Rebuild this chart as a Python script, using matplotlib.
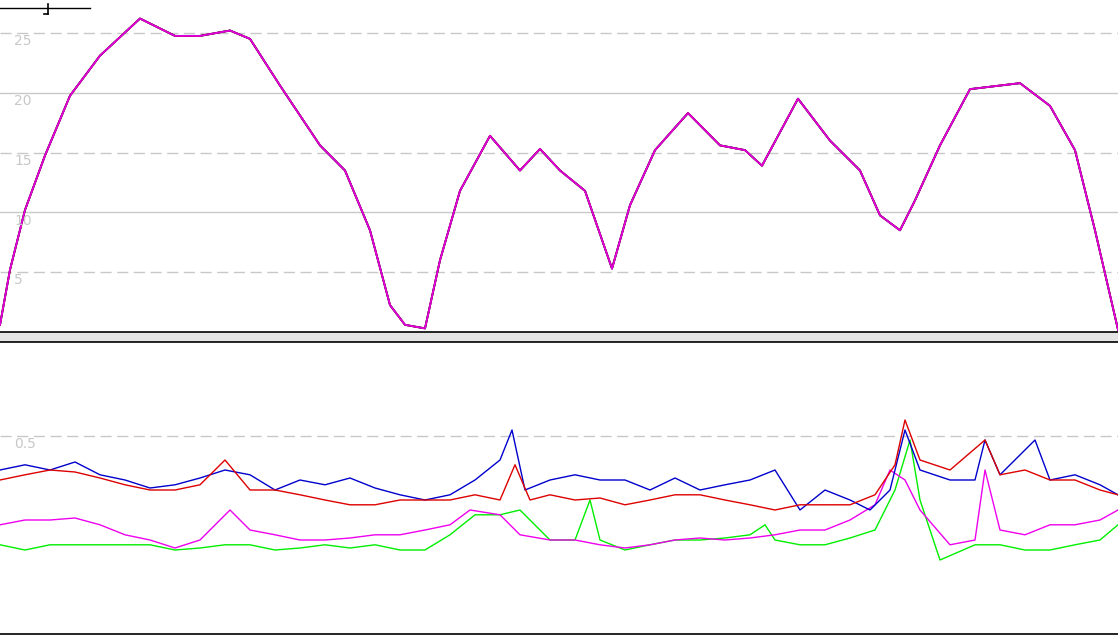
import matplotlib
matplotlib.use("Agg")
import matplotlib.pyplot as plt
from matplotlib.patches import Rectangle
from matplotlib.lines import Line2D

# top panel: shared profile (all four series nearly overlap)
top_x = [0,10,25,45,70,100,140,175,200,230,250,280,320,345,370,390,405,425,440,460,490,520,540,560,585,612,630,655,688,720,745,762,798,830,860,880,900,915,940,970,1020,1050,1075,1095,1118]
top_v = [0.6,5.2,10.2,14.75,19.75,23.1,26.2,24.75,24.75,25.2,24.5,20.6,15.6,13.5,8.5,2.25,0.6,0.3,6.0,11.8,16.4,13.5,15.3,13.5,11.8,5.3,10.6,15.2,18.3,15.6,15.2,13.9,19.5,16.0,13.5,9.75,8.5,11.0,15.6,20.3,20.8,18.9,15.2,8.5,0.2]

blue_x = [0,25,50,75,100,125,150,175,200,225,250,275,300,325,350,375,400,425,450,475,500,512,525,550,575,600,625,650,675,700,725,750,775,800,825,850,870,890,905,920,950,975,985,1000,1035,1050,1075,1100,1118]
blue_v = [.415,.428,.415,.435,.403,.39,.37,.378,.395,.415,.403,.365,.39,.378,.395,.37,.353,.34,.353,.39,.44,.515,.365,.39,.403,.39,.39,.365,.395,.365,.378,.39,.415,.315,.365,.34,.315,.365,.515,.415,.39,.39,.49,.403,.49,.39,.403,.378,.353]
red_x = [0,25,50,75,100,125,150,175,200,225,250,275,300,325,350,375,400,425,450,475,500,515,530,550,575,600,625,650,675,700,725,750,775,800,825,850,875,895,905,920,950,985,1000,1025,1050,1075,1100,1118]
red_v = [.39,.403,.415,.41,.395,.378,.365,.365,.378,.44,.365,.365,.353,.34,.328,.328,.34,.34,.34,.353,.34,.428,.34,.353,.34,.345,.328,.34,.353,.353,.34,.328,.315,.328,.328,.328,.353,.428,.54,.44,.415,.49,.403,.415,.39,.39,.365,.353]
mag_x = [0,25,50,75,100,125,150,175,200,230,250,275,300,325,350,375,400,425,450,470,500,520,550,575,600,625,650,675,700,725,750,775,800,825,850,875,890,905,920,950,975,985,1000,1025,1050,1075,1100,1118]
mag_v = [.278,.29,.29,.295,.278,.253,.24,.22,.24,.315,.265,.253,.24,.24,.245,.253,.253,.265,.278,.315,.303,.253,.24,.24,.228,.22,.228,.24,.245,.24,.245,.253,.265,.265,.29,.328,.415,.39,.315,.228,.24,.415,.265,.253,.278,.278,.29,.315]
grn_x = [0,25,50,75,100,125,150,175,200,225,250,275,300,325,350,375,400,425,450,475,500,520,550,575,590,600,625,650,675,700,725,750,765,775,800,825,850,875,895,910,920,940,975,1000,1025,1050,1075,1100,1118]
grn_v = [.228,.215,.228,.228,.228,.228,.228,.215,.22,.228,.228,.215,.22,.228,.22,.228,.215,.215,.253,.303,.303,.315,.24,.24,.34,.24,.215,.228,.24,.24,.245,.253,.278,.24,.228,.228,.245,.265,.365,.49,.34,.19,.228,.228,.215,.215,.228,.24,.278]

fig = plt.figure(figsize=(11.18, 6.39), dpi=100)
H = 639.0
ax1 = fig.add_axes([0, 1-332/H, 1, 332/H])
ax2 = fig.add_axes([0, 5/H, 1, 291/H])

for ax in (ax1, ax2):
    for s in ax.spines.values():
        s.set_visible(False)
    ax.set_xticks([]); ax.set_yticks([])
    ax.set_xlim(0, 1118)

ax1.set_ylim(0, 27.75)
for v, ls in [(25,(0,(8,4))),(20,'-'),(15,(0,(8,4))),(10,'-'),(5,(0,(8,4)))]:
    ax1.axhline(v, color='#c8c8c8', lw=1, ls=ls, zorder=0)
    ax1.text(14, v-0.1, str(v), color='#c8c8c8', fontsize=10, va='top', ha='left')
for c in ['#00dd00', '#0000dd', '#dd0000', '#dd00dd']:
    ax1.plot(top_x, top_v, color=c, lw=1.3)

ax2.set_ylim(0.005, 0.7325)
ax2.axhline(0.5, color='#c8c8c8', lw=1, ls=(0,(8,4)), zorder=0)
ax2.text(14, 0.497, '0.5', color='#c8c8c8', fontsize=10, va='top', ha='left')
ax2.plot(grn_x, grn_v, color='#00ee00', lw=1)
ax2.plot(mag_x, mag_v, color='#ee00ee', lw=1)
ax2.plot(blue_x, blue_v, color='#0000cc', lw=1)
ax2.plot(red_x, red_v, color='#dd0000', lw=1)

# separator band
fig.patches.append(Rectangle((0, 1-342/H), 1, 10/H, transform=fig.transFigure,
                             facecolor='#e4e4e4', edgecolor='none', hatch='....'))
for yp in (332, 342, 634):
    fig.lines.append(Line2D([0, 1], [1-yp/H]*2, transform=fig.transFigure, color='black', lw=1.2))
# slider widget top-left
fig.lines.append(Line2D([0, 90/1118], [1-8/H]*2, transform=fig.transFigure, color='black', lw=1))
fig.lines.append(Line2D([48/1118]*2, [1-4/H, 1-14/H], transform=fig.transFigure, color='black', lw=1.2))
fig.lines.append(Line2D([44/1118, 48/1118], [1-14/H]*2, transform=fig.transFigure, color='black', lw=1.2))

fig.savefig('out.png', dpi=100)
